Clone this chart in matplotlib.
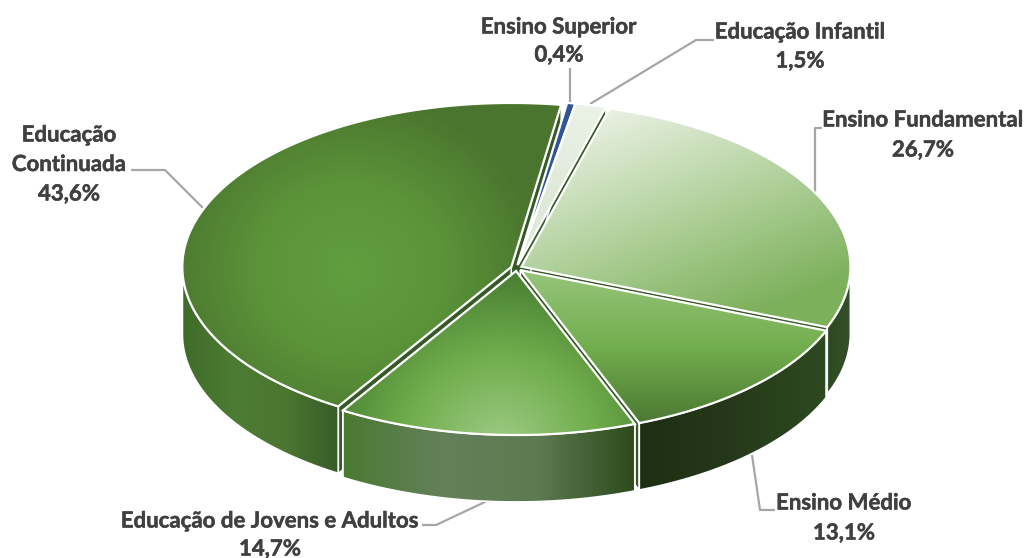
import numpy as np
import matplotlib
matplotlib.use("Agg")
import matplotlib.pyplot as plt
import matplotlib.patheffects as pe
from matplotlib.patches import Polygon
from matplotlib.colors import LinearSegmentedColormap

categories = ["Ensino Superior", "Educação Infantil", "Ensino Fundamental",
              "Ensino Médio", "Educação de Jovens e Adultos", "Educação Continuada"]
values = [0.4, 1.5, 26.7, 13.1, 14.7, 43.6]
percent_labels = ["0,4%", "1,5%", "26,7%", "13,1%", "14,7%", "43,6%"]
wrapped_names = ["Ensino Superior", "Educação Infantil", "Ensino Fundamental",
                 "Ensino Médio", "Educação de Jovens e Adultos", "Educação\nContinuada"]

START = 8.7
CX, CY, RX, RY, DEPTH, EXPLODE = 516.5, 268.0, 329.0, 164.0, 67.0, 5.5
W, H = 1028, 558

top_styles = [
    ("linear", (0, 0), (0, 1), ["#2f5597", "#2f5597"]),
    ("linear", (590, 100), (590, 200), ["#ecf2e8", "#dfe9d8"]),
    ("linear", (610, 100), (700, 335), ["#edf3e8", "#b5d3a0", "#7cb05b"]),
    ("linear", (640, 270), (640, 425), ["#97c57b", "#72ae4e", "#4b7832"]),
    ("radial", (500, 445), (190, 180), ["#9ecb86", "#70ad4c", "#457a30"]),
    ("radial", (350, 270), (190, 175), ["#629d40", "#5b9339", "#4a752e"]),
]
side_stops = [
    ["#2f5597", "#2f5597"],
    ["#dfe9d8", "#dfe9d8"],
    ["#2e4a22", "#33502a"],
    ["#1d2f12", "#25391a", "#2e4a20"],
    ["#4a7a32", "#64805a", "#5e7a50", "#2c4a1c"],
    ["#3f6c2a", "#4d7c34", "#4a7631", "#385c27"],
]
wall_color = "#365a27"
leaders = [
    [(570, 68), (570, 103)],
    [(714, 40), (696, 40), (590, 104)],
    [(822, 128), (815, 128), (815, 193)],
    [(775, 510), (760, 510), (752, 455)],
    [(422, 525), (436, 525), (487, 501)],
    [(131, 170), (165, 170), (203, 208)],
]
text_pos = [(559, 27, 55), (800, 32, 61), (923, 120, 150), (844, 503, 533), (270, 521, 549), (69, 135, 194)]

plt.rcParams["font.family"] = ["Lato", "DejaVu Sans"]
fig = plt.figure(figsize=(W / 100, H / 100), dpi=100)
ax = fig.add_axes([0, 0, 1, 1])


def paint(poly, kind, a, b, stops, z):
    """Fill poly with a linear or radial gradient."""
    x0, y0 = np.floor(poly.min(axis=0)) - 1
    x1, y1 = np.ceil(poly.max(axis=0)) + 1
    xs, ys = np.meshgrid(np.arange(x0, x1 + 1), np.arange(y0, y1 + 1))
    if kind == "linear":
        d = np.array(b, float) - np.array(a, float)
        t = ((xs - a[0]) * d[0] + (ys - a[1]) * d[1]) / (d @ d)
    else:
        t = np.hypot((xs - a[0]) / b[0], (ys - a[1]) / b[1])
    cmap = LinearSegmentedColormap.from_list("g", stops)
    im = ax.imshow(cmap(np.clip(t, 0, 1)), extent=(x0 - .5, x1 + .5, y1 + .5, y0 - .5),
                   aspect="auto", zorder=z, interpolation="bilinear")
    clip = Polygon(poly, closed=True, transform=ax.transData)
    im.set_clip_path(clip)


def rim(th, ox, oy):
    r = np.radians(th)
    return np.column_stack([CX + ox + RX * np.sin(r), CY + oy - RY * np.cos(r)])


edges = START + np.concatenate([[0], np.cumsum(values)]) * 3.6
mids = (edges[:-1] + edges[1:]) / 2
order = np.argsort(-np.cos(np.radians(mids)))  # back to front
offsets = [(EXPLODE * np.sin(np.radians(m)), -EXPLODE * np.cos(np.radians(m)) * 0.55) for m in mids]
down = np.array([0, DEPTH])
z = 2
# side surfaces first, back to front
for i in order:
    a0, a1 = edges[i], edges[i + 1]
    ox, oy = offsets[i]
    apex = np.array([CX + ox, CY + oy])
    for ang in (a0, a1):
        p = rim(np.array([ang]), ox, oy)[0]
        ax.add_patch(Polygon([apex, p, p + down, apex + down], closed=True, fc=wall_color,
                             ec="white", lw=1.0, zorder=z, joinstyle="round"))
    z += 1
    lo, hi = max(a0, 90), min(a1, 270)
    if hi > lo:
        th = np.linspace(lo, hi, 120)
        arc = rim(th, ox, oy)
        band = np.vstack([arc, (arc + down)[::-1]])
        paint(band, "linear", (band[:, 0].min(), 0), (band[:, 0].max(), 0), side_stops[i], z)
        z += 1
        ax.add_patch(Polygon(band, closed=True, fc="none", ec="white", lw=1.3, zorder=z))
        z += 1
# top faces above every side
for i in order:
    a0, a1 = edges[i], edges[i + 1]
    ox, oy = offsets[i]
    apex = np.array([CX + ox, CY + oy])
    th = np.linspace(a0, a1, max(8, int((a1 - a0) * 3)))
    top = np.vstack([apex, rim(th, ox, oy)])
    kind, p0, p1, stops = top_styles[i]
    paint(top, kind, p0, p1, stops, z)
    z += 1
    ax.add_patch(Polygon(top, closed=True, fc="none", ec="white", lw=1.6, zorder=z, joinstyle="miter"))
    z += 1

for pts in leaders:
    pts = np.array(pts)
    ax.plot(pts[:, 0], pts[:, 1], color="#a6a6a6", lw=1.6, zorder=1, solid_capstyle="butt")

tc = "#404040"
fs = 16
kw = dict(ha="center", va="center", color=tc, fontsize=fs, fontweight="bold", zorder=500,
          path_effects=[pe.withStroke(linewidth=0.35, foreground=tc)])
for name, pct, (x, y0, y1) in zip(wrapped_names, percent_labels, text_pos):
    if "\n" in name:
        a, b = name.split("\n")
        ax.text(x, y0, a, **kw)
        ax.text(x, (y0 + y1) / 2, b, **kw)
    else:
        ax.text(x, y0, name, **kw)
    ax.text(x, y1, pct, **kw)

ax.set_xlim(0, W)
ax.set_ylim(H, 0)
ax.axis("off")
fig.savefig("out.png", dpi=100, facecolor="white")
